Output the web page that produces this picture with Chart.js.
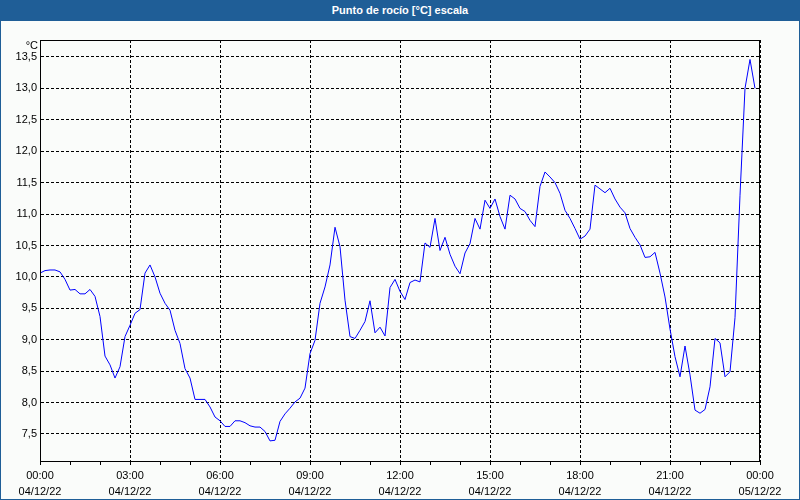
<!DOCTYPE html>
<html>
<head>
<meta charset="utf-8">
<script src="https://cdn.jsdelivr.net/npm/chart.js@4.4.1/dist/chart.umd.min.js"></script>
<style>
  html, body { margin: 0; padding: 0; background: #fafcfa; }
  #wrap { position: relative; width: 800px; height: 500px; overflow: hidden; background: #fafcfa; }
  #title { position: absolute; left: 0; top: 0; width: 800px; height: 21px; background: #1f5e97;
           color: #fff; font: bold 11px "Liberation Sans", Arial, sans-serif; text-align: center; line-height: 20px; }
  #frame { position: absolute; left: 0; top: 0; width: 798px; height: 498px; border: 1px solid #1f5e97; pointer-events: none; }
  canvas { position: absolute; left: 0; top: 0; }
</style>
</head>
<body>
<div id="wrap">
  <canvas id="c" width="800" height="500"></canvas>
  <div id="title">Punto de rocío [°C] escala</div>
  <div id="frame"></div>
</div>
<script>
// Dew point readings every 10 minutes, 04/12/22 00:00 to 23:50
const dewPoint = [
  10.06, 10.10, 10.11, 10.11, 10.08, 9.96, 9.79, 9.80, 9.73, 9.73,
  9.80, 9.69, 9.37, 8.74, 8.60, 8.39, 8.57, 9.05, 9.23, 9.42,
  9.48, 10.06, 10.19, 10.00, 9.74, 9.58, 9.47, 9.15, 8.94, 8.54,
  8.39, 8.05, 8.05, 8.05, 7.93, 7.77, 7.71, 7.62, 7.62, 7.71,
  7.71, 7.68, 7.63, 7.61, 7.61, 7.54, 7.39, 7.40, 7.70, 7.82,
  7.91, 8.01, 8.07, 8.23, 8.78, 8.99, 9.58, 9.84, 10.19, 10.79,
  10.48, 9.63, 9.05, 9.02, 9.15, 9.29, 9.62, 9.11, 9.20, 9.06,
  9.83, 9.96, 9.77, 9.64, 9.91, 9.95, 9.92, 10.54, 10.47, 10.93,
  10.42, 10.63, 10.36, 10.17, 10.05, 10.38, 10.53, 10.93, 10.76, 11.22,
  11.09, 11.24, 10.96, 10.76, 11.30, 11.24, 11.09, 11.04, 10.90, 10.80,
  11.44, 11.67, 11.59, 11.50, 11.33, 11.06, 10.93, 10.77, 10.60, 10.65,
  10.76, 11.46, 11.40, 11.34, 11.41, 11.24, 11.11, 11.02, 10.77, 10.63,
  10.51, 10.31, 10.32, 10.39, 10.06, 9.68, 9.17, 8.73, 8.41, 8.90,
  8.44, 7.88, 7.83, 7.89, 8.25, 9.02, 8.95, 8.41, 8.49, 9.35,
  11.30, 13.00, 13.46, 13.00
];
const sampleMinutes = 10;
const yTicks = [7.5, 8.0, 8.5, 9.0, 9.5, 10.0, 10.5, 11.0, 11.5, 12.0, 12.5, 13.0, 13.5];
const xTickTimes = ['00:00','03:00','06:00','09:00','12:00','15:00','18:00','21:00','00:00'];
const xTickDates = ['04/12/22','04/12/22','04/12/22','04/12/22','04/12/22','04/12/22','04/12/22','04/12/22','05/12/22'];
const yUnit = '°C';

const points = dewPoint.map((v, i) => ({ x: i * sampleMinutes, y: v }));
const FONT = '"Liberation Sans", Arial, sans-serif';

const framePlugin = {
  id: 'frame',
  afterDatasetsDraw(chart) {
    const { ctx, chartArea: a } = chart;
    ctx.save();
    ctx.strokeStyle = '#000';
    ctx.lineWidth = 1;
    ctx.strokeRect(Math.round(a.left) + 0.5, Math.round(a.top) + 0.5,
                   Math.round(a.right - a.left) - 1, Math.round(a.bottom - a.top));
    ctx.fillStyle = '#000';
    ctx.font = '11px ' + FONT;
    ctx.textAlign = 'right';
    ctx.textBaseline = 'middle';
    ctx.fillText(yUnit, a.left - 2, a.top + 6);
    ctx.restore();
  }
};

new Chart(document.getElementById('c'), {
  type: 'line',
  data: {
    datasets: [{
      data: points,
      borderColor: '#0000ff',
      borderWidth: 1,
      pointRadius: 0,
      tension: 0,
      fill: false
    }]
  },
  options: {
    responsive: false,
    animation: false,
    layout: { padding: { top: 40, right: 40, left: 0, bottom: 0 } },
    plugins: { legend: { display: false }, tooltip: { enabled: false }, title: { display: false } },
    scales: {
      x: {
        type: 'linear',
        min: 0,
        max: 1440,
        afterFit(s) { s.height = 39; },
        afterBuildTicks(s) {
          const t = [];
          for (let m = 0; m <= 1440; m += 60) t.push({ value: m });
          s.ticks = t;
        },
        grid: {
          color: (c) => (c.tick && c.tick.value % 180 === 0) ? '#000' : 'rgba(0,0,0,0)',
          tickColor: '#000',
          tickLength: 4,
          lineWidth: 1,
          drawOnChartArea: true
        },
        border: { display: true, color: '#000', dash: [3, 2] },
        ticks: {
          autoSkip: false,
          maxRotation: 0,
          padding: 3,
          color: '#000',
          font: { family: FONT, size: 11, lineHeight: 1.45 },
          callback: (v) => {
            if (v % 180 !== 0) return '';
            const k = v / 180;
            return [xTickTimes[k], xTickDates[k]];
          }
        }
      },
      y: {
        min: 7.07,
        max: 13.77,
        afterFit(s) { s.width = 40; },
        afterBuildTicks(s) { s.ticks = yTicks.map(v => ({ value: v })); },
        grid: { color: '#000', lineWidth: 1, drawTicks: false },
        border: { display: true, color: '#000', dash: [3, 2] },
        ticks: {
          padding: 3,
          color: '#000',
          font: { family: FONT, size: 11 },
          callback: (v) => Number(v).toFixed(1).replace('.', ',')
        }
      }
    }
  },
  plugins: [framePlugin]
});
</script>
</body>
</html>
